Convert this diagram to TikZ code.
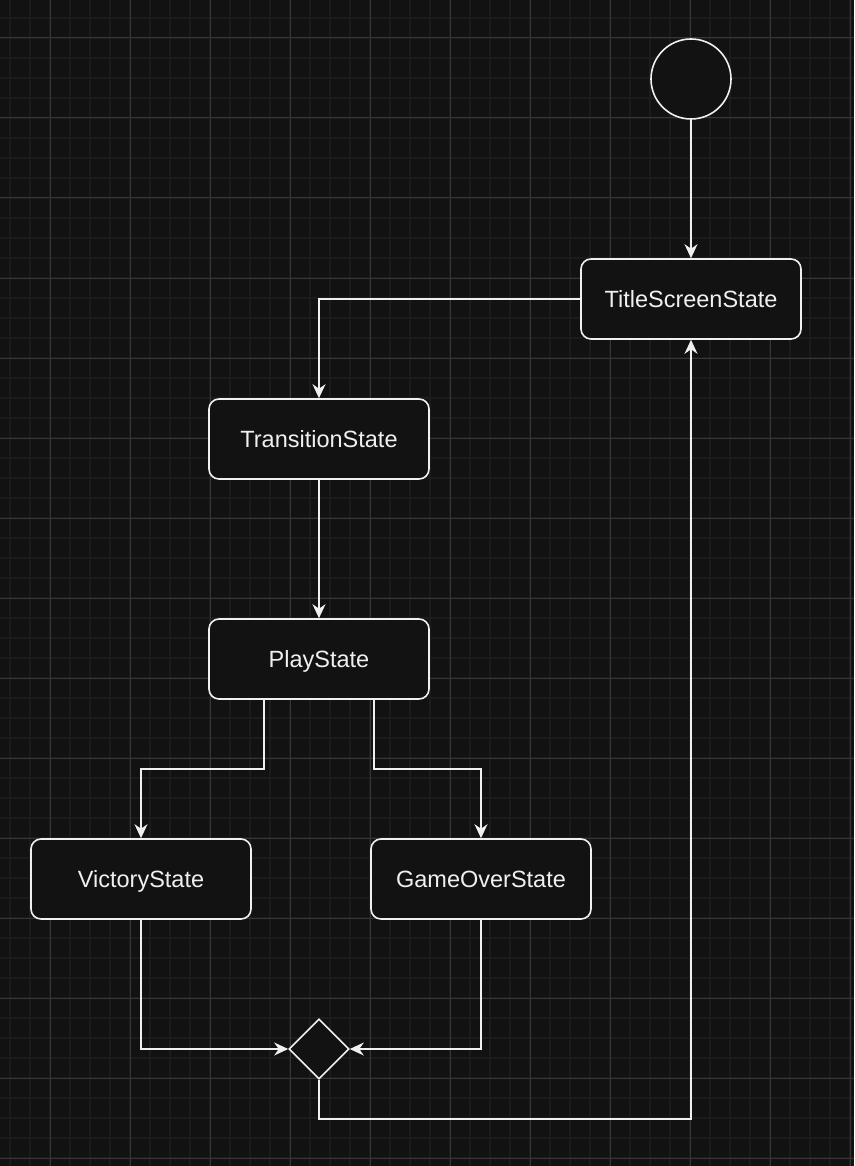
\documentclass[tikz,border=0pt]{standalone}
\usepackage{fontspec}
\setmainfont{Liberation Sans}
\usetikzlibrary{arrows.meta,shapes.geometric}
\definecolor{bg}{HTML}{121212}
\definecolor{minorg}{HTML}{1C1C1C}
\definecolor{majorg}{HTML}{363636}
\definecolor{fg}{HTML}{F0F0F0}
\tikzset{
  statebox/.style={draw=fg, line width=1.6pt, fill=bg, rounded corners=10pt,
    minimum width=220pt, minimum height=80pt, inner sep=0pt, text=fg,
    text height=19pt, text depth=2pt,
    font=\fontsize{23.5}{28}\selectfont},
  flow/.style={draw=fg, line width=1.6pt, -{Stealth[length=14pt,width=13pt,inset=4.5pt]}},
}
\begin{document}
\begin{tikzpicture}[x=1pt,y=-1pt]
\fill[bg] (0,0) rectangle (854,1166);
\useasboundingbox (0,0) rectangle (854,1166);
\foreach \x in {10,30,...,850} \draw[minorg, line width=1.5pt] (\x,0) -- (\x,1166);
\foreach \y in {18,38,...,1166} \draw[minorg, line width=1.5pt] (0,\y) -- (854,\y);
\foreach \x in {50,130,...,850} \draw[majorg, line width=1pt] (\x,0) -- (\x,1166);
\foreach \y in {38,118,...,1166} \draw[majorg, line width=1pt] (0,\y) -- (854,\y);

\node[circle, draw=fg, line width=1.6pt, fill=bg, minimum size=80pt, inner sep=0pt] (start) at (691,79) {};
\node[statebox] (title) at (691,299) {TitleScreenState};
\node[statebox] (trans) at (319,439) {TransitionState};
\node[statebox] (play) at (319,659) {PlayState};
\node[statebox] (vic) at (141,879) {VictoryState};
\node[statebox] (over) at (481,879) {GameOverState};
\node[diamond, draw=fg, line width=1.6pt, fill=bg, minimum size=60pt, inner sep=0pt, aspect=1] (dec) at (319,1049) {};

\draw[flow] (start.south) -- (title.north);
\draw[flow] (title.west) -| (trans.north);
\draw[flow] (trans.south) -- (play.north);
\draw[flow] ([xshift=-55pt]play.south) |- (203,769) -| (vic.north);
\draw[flow] ([xshift=55pt]play.south) |- (420,769) -| (over.north);
\draw[flow] (vic.south) |- (dec.west);
\draw[flow] (over.south) |- (dec.east);
\draw[flow] (dec.south) -- (319,1119) -| (title.south);
\end{tikzpicture}
\end{document}
